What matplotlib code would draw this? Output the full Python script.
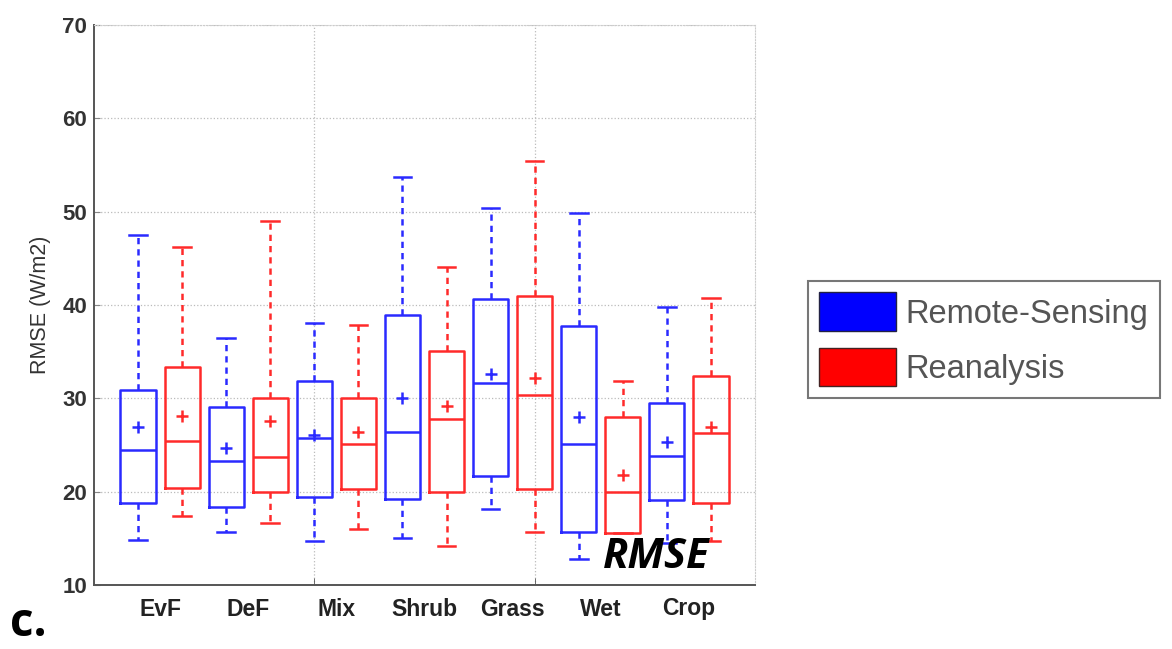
import matplotlib.pyplot as plt
from matplotlib.patches import Patch

plt.rcParams['font.family'] = ['Liberation Sans', 'DejaVu Sans']

categories = ['EvF', 'DeF', 'Mix', 'Shrub', 'Grass', 'Wet', 'Crop']

# Remote-Sensing products
rs_whislo = [14.8, 15.7, 14.7, 15.0, 18.1, 12.75, 14.5]
rs_q1 = [18.8, 18.4, 19.4, 19.25, 21.7, 15.7, 19.1]
rs_med = [24.5, 23.25, 25.8, 26.4, 31.6, 25.1, 23.8]
rs_q3 = [30.9, 29.1, 31.9, 38.9, 40.6, 37.8, 29.5]
rs_whishi = [47.5, 36.5, 38.1, 53.7, 50.4, 49.9, 39.8]
rs_mean = [26.9, 24.7, 26.1, 30.0, 32.65, 28.0, 25.3]

# Reanalysis products
ra_whislo = [17.4, 16.6, 16.0, 14.2, 15.7, 15.6, 14.7]
ra_q1 = [20.4, 20.0, 20.25, 20.0, 20.25, 15.6, 18.8]
ra_med = [25.4, 23.7, 25.1, 27.8, 30.4, 20.0, 26.3]
ra_q3 = [33.35, 30.0, 30.0, 35.1, 41.0, 28.0, 32.4]
ra_whishi = [46.2, 49.0, 37.9, 44.1, 55.4, 31.9, 40.7]
ra_mean = [28.1, 27.6, 26.4, 29.2, 32.2, 21.8, 26.9]

blue = '#2a2aff'
red = '#ff2a2a'


def make_stats(lo, q1, med, q3, hi, mean):
    return [dict(whislo=a, q1=b, med=c, q3=d, whishi=e, mean=f, fliers=[])
            for a, b, c, d, e, f in zip(lo, q1, med, q3, hi, mean)]


fig = plt.figure(figsize=(11.72, 6.49), dpi=100)
ax = fig.add_axes([94 / 1172, 1 - 585 / 649, (755 - 94) / 1172, (585 - 25) / 649])

n = len(categories)
pos_rs = [2 * i + 1 for i in range(n)]
pos_ra = [2 * i + 2 for i in range(n)]

for stats, pos, col in [(make_stats(rs_whislo, rs_q1, rs_med, rs_q3, rs_whishi, rs_mean), pos_rs, blue),
                        (make_stats(ra_whislo, ra_q1, ra_med, ra_q3, ra_whishi, ra_mean), pos_ra, red)]:
    ax.bxp(stats, positions=pos, widths=0.8, showmeans=True, showfliers=False,
           manage_ticks=False,
           boxprops=dict(color=col, lw=1.8),
           medianprops=dict(color=col, lw=1.8),
           whiskerprops=dict(color=col, lw=1.8, ls=(0, (2.5, 2))),
           capprops=dict(color=col, lw=1.8),
           meanprops=dict(marker='+', markeredgecolor=col, markersize=8, mew=1.8))

ax.set_xlim(0, 15)
ax.set_ylim(10, 70)
ax.set_yticks(range(10, 71, 10))
ax.set_xticks([1.5 + 2 * i for i in range(n)])
ax.set_xticklabels(categories, fontsize=16.5, fontweight='bold', color='#222222')
ax.set_xticks([5, 10], minor=True)
ax.tick_params(axis='x', which='major', length=0, pad=9)
ax.tick_params(axis='x', which='minor', direction='in', length=5, color='#555555')
ax.tick_params(axis='y', direction='in', length=4, color='#888888',
               labelsize=16, labelcolor='#333333', pad=5)
for lbl in ax.get_yticklabels():
    lbl.set_fontweight('bold')

ax.grid(True, axis='y', which='major', ls=':', color='#bbbbbb', lw=0.9)
ax.grid(True, axis='x', which='minor', ls=':', color='#bbbbbb', lw=0.9)
ax.set_axisbelow(True)

for side in ['left', 'bottom']:
    ax.spines[side].set_color('#555555')
    ax.spines[side].set_linewidth(1.4)
for side in ['top', 'right']:
    ax.spines[side].set_color('#cccccc')
    ax.spines[side].set_linestyle(':')

ax.set_ylabel('RMSE (W/m2)', fontsize=15.5, color='#333333', labelpad=8)

handles = [Patch(facecolor='#0000ff', edgecolor='#222244', label='Remote-Sensing'),
           Patch(facecolor='#ff0000', edgecolor='#442222', label='Reanalysis')]
leg = fig.legend(handles=handles, loc='upper left', bbox_to_anchor=(808 / 1172, 1 - 281 / 649),
                 fontsize=23.5, frameon=True, fancybox=False, edgecolor='#555555',
                 handlelength=2.34, handleheight=1.45, handletextpad=0.3,
                 borderpad=0.35, labelspacing=0.5, borderaxespad=0)
leg.get_frame().set_linewidth(1.5)
for t in leg.get_texts():
    t.set_color('#555555')

fig.text(656 / 1172, 1 - 557 / 649, 'RMSE', fontsize=30, fontweight='bold', style='italic',
         family='Open Sans', ha='center', va='center', color='black')
fig.text(10 / 1172, 1 - 624 / 649, 'c.', fontsize=33, fontweight='bold',
         family='Open Sans', ha='left', va='center', color='black')

fig.savefig('out.png', dpi=100)
